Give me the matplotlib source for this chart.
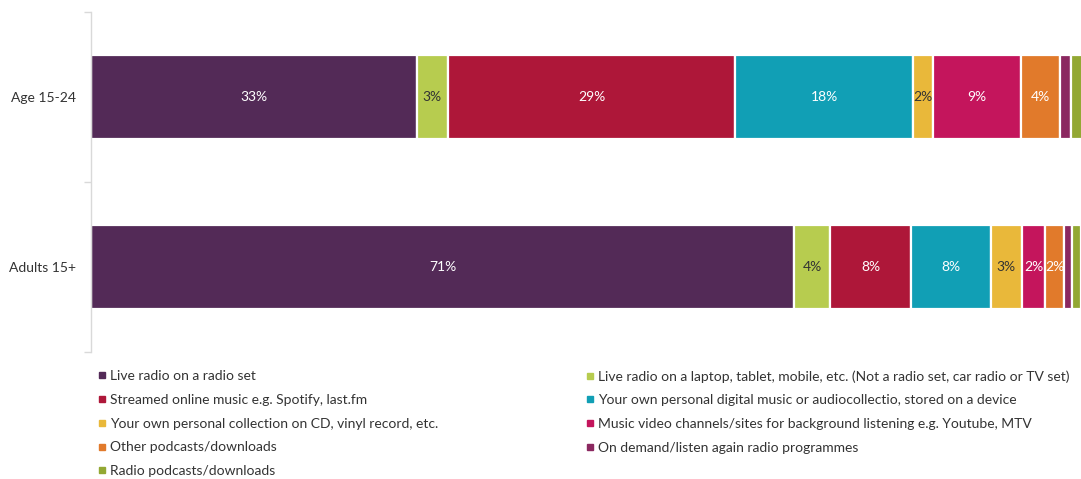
import matplotlib
matplotlib.use("Agg")
import matplotlib.pyplot as plt
from matplotlib.lines import Line2D
import numpy as np

plt.rcParams['font.family'] = ['Lato', 'DejaVu Sans']

groups = ["Age 15-24", "Adults 15+"]
series = [
    "Live radio on a radio set",
    "Live radio on a laptop, tablet, mobile, etc. (Not a radio set, car radio or TV set)",
    "Streamed online music e.g. Spotify, last.fm",
    "Your own personal digital music or audiocollectio, stored on a device",
    "Your own personal collection on CD, vinyl record, etc.",
    "Music video channels/sites for background listening e.g. Youtube, MTV",
    "Other podcasts/downloads",
    "On demand/listen again radio programmes",
    "Radio podcasts/downloads",
]
# share (%) per series, one entry per group: [Age 15-24, Adults 15+]
live_radio_set = [33.0, 71.2]
live_radio_device = [3.1, 3.6]
streamed_music = [29.1, 8.2]
own_digital = [18.0, 8.1]
own_physical = [2.0, 3.1]
music_video = [8.9, 2.4]
other_podcasts = [4.0, 1.9]
on_demand = [1.1, 0.8]
radio_podcasts = [1.2, 0.9]

values = [live_radio_set, live_radio_device, streamed_music, own_digital,
          own_physical, music_video, other_podcasts, on_demand, radio_podcasts]
colors = ["#532A57", "#B7CC4F", "#AE1739", "#119FB5", "#E9B83A",
          "#C4155C", "#E17A2B", "#8B2860", "#93A833"]
label_colors = ["white", "#333333", "white", "white", "#333333",
                "white", "white", "white", "white"]
show_label = [True, True, True, True, True, True, True, False, False]

W, H = 1081, 479
fig = plt.figure(figsize=(W / 100, H / 100), dpi=100)
ax = fig.add_axes([91 / W, 1 - 352 / H, (1081 - 91) / W, (352 - 12) / H])

y = np.array([1.5, 0.5])
left = np.zeros(len(groups))
for vals, col, lc, show in zip(values, colors, label_colors, show_label):
    vals = np.array(vals)
    ax.barh(y, vals, left=left, height=0.49, color=col,
            edgecolor="white", linewidth=1.6)
    if show:
        for yi, l, v in zip(y, left, vals):
            ax.text(l + v / 2, yi, f"{round(v):.0f}%", ha="center", va="center",
                    color=lc, fontsize=10)
    left += vals

ax.set_xlim(0, 100.2)
ax.set_ylim(0, 2)
ax.set_yticks([0, 1, 2])
ax.set_yticklabels([])
ax.set_yticks(y, minor=True)
ax.set_yticklabels(groups, minor=True, fontsize=10, color="#333333")
ax.tick_params(axis="y", which="minor", length=0, pad=11)
ax.tick_params(axis="y", which="major", length=5, color="#d9d9d9", width=1)
ax.set_xticks([])
for s in ["top", "right", "bottom"]:
    ax.spines[s].set_visible(False)
ax.spines["left"].set_color("#d9d9d9")
ax.spines["left"].set_linewidth(1)

handles = [Line2D([], [], marker="s", linestyle="none", markersize=4.5,
                  markerfacecolor=c, markeredgecolor=c) for c in colors]

common = dict(frameon=False, fontsize=10, handletextpad=0.1,
              labelspacing=0.85, borderaxespad=0, borderpad=0,
              handlelength=1.0, labelcolor="#333333")
leg1 = fig.legend([handles[i] for i in range(0, 9, 2)],
                  [series[i] for i in range(0, 9, 2)],
                  loc="upper left", bbox_to_anchor=(95 / W, 1 - 370 / H), **common)
leg2 = fig.legend([handles[i] for i in range(1, 9, 2)],
                  [series[i] for i in range(1, 9, 2)],
                  loc="upper left", bbox_to_anchor=(583 / W, 1 - 370 / H), **common)

fig.savefig("out.png", dpi=100)
